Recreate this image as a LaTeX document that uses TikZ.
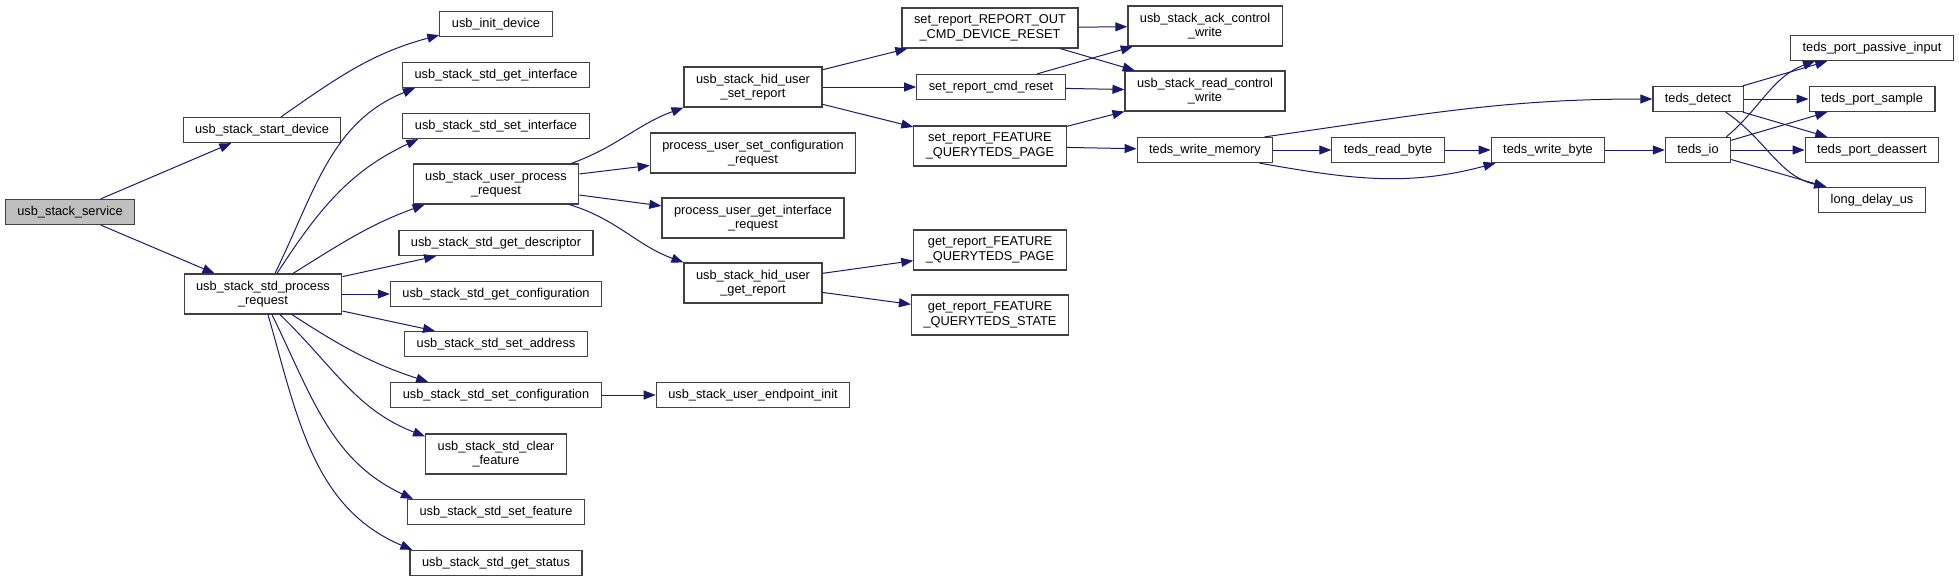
\documentclass[tikz,border=0pt]{standalone}
\usepackage{fontspec}
\setmainfont{Liberation Sans}
\usetikzlibrary{arrows.meta}
\definecolor{edgeblue}{RGB}{25,25,112}
\definecolor{boxline}{RGB}{64,64,64}
\definecolor{rootfill}{RGB}{191,191,191}
\begin{document}
\begin{tikzpicture}[x=1pt, y=1pt, >={Triangle[length=12pt,width=9pt]},
  fn/.style={draw=boxline, line width=1.2pt, fill=white, inner xsep=12pt, inner ysep=2pt,
    minimum height=25pt, font=\fontsize{12.8}{14.5}\selectfont},
  fn2/.style={fn, align=center, minimum height=40pt},
  root/.style={fn, fill=rootfill},
  call/.style={->, draw=edgeblue, line width=1pt}]
\useasboundingbox (0,0) rectangle (1959,-582);
\node[root] (service) at (70,-212) {usb\_stack\_service};
\node[fn] (startdev) at (262,-130) {usb\_stack\_start\_device};
\node[fn2] (stdproc) at (263,-294) {usb\_stack\_std\_process\\\_request};
\node[fn] (initdev) at (496,-24) {usb\_init\_device};
\node[fn] (getif) at (496,-75) {usb\_stack\_std\_get\_interface};
\node[fn] (setif) at (496,-126) {usb\_stack\_std\_set\_interface};
\node[fn2] (userproc) at (496,-184) {usb\_stack\_user\_process\\\_request};
\node[fn] (getdesc) at (496,-243) {usb\_stack\_std\_get\_descriptor};
\node[fn] (getconf) at (496,-294) {usb\_stack\_std\_get\_configuration};
\node[fn] (setaddr) at (496,-344) {usb\_stack\_std\_set\_address};
\node[fn] (setconf) at (496,-395) {usb\_stack\_std\_set\_configuration};
\node[fn2] (clearfeat) at (496,-454) {usb\_stack\_std\_clear\\\_feature};
\node[fn] (setfeat) at (496,-512) {usb\_stack\_std\_set\_feature};
\node[fn] (getstatus) at (496,-563) {usb\_stack\_std\_get\_status};
\node[fn2] (hidset) at (753,-87) {usb\_stack\_hid\_user\\\_set\_report};
\node[fn2] (procsetconf) at (753,-153) {process\_user\_set\_configuration\\\_request};
\node[fn2] (procgetif) at (753,-218) {process\_user\_get\_interface\\\_request};
\node[fn2] (hidget) at (753,-283) {usb\_stack\_hid\_user\\\_get\_report};
\node[fn] (epinit) at (753,-395) {usb\_stack\_user\_endpoint\_init};
\node[fn2] (reportout) at (990,-28) {set\_report\_REPORT\_OUT\\\_CMD\_DEVICE\_RESET};
\node[fn] (cmdreset) at (991,-87) {set\_report\_cmd\_reset};
\node[fn2] (featpage) at (990,-146) {set\_report\_FEATURE\\\_QUERYTEDS\_PAGE};
\node[fn2] (getpage) at (990,-250) {get\_report\_FEATURE\\\_QUERYTEDS\_PAGE};
\node[fn2] (getstate) at (990,-315) {get\_report\_FEATURE\\\_QUERYTEDS\_STATE};
\node[fn2] (ackwrite) at (1205,-26) {usb\_stack\_ack\_control\\\_write};
\node[fn2] (readwrite) at (1205,-91) {usb\_stack\_read\_control\\\_write};
\node[fn] (tedswm) at (1205,-150) {teds\_write\_memory};
\node[fn] (readbyte) at (1388,-150) {teds\_read\_byte};
\node[fn] (writebyte) at (1548,-150) {teds\_write\_byte};
\node[fn] (detect) at (1698,-99) {teds\_detect};
\node[fn] (tedsio) at (1698,-150) {teds\_io};
\node[fn] (passive) at (1872,-48) {teds\_port\_passive\_input};
\node[fn] (sample) at (1872,-99) {teds\_port\_sample};
\node[fn] (deassert) at (1872,-150) {teds\_port\_deassert};
\node[fn] (longdelay) at (1872,-200) {long\_delay\_us};
\draw[call] (service) -- (startdev);
\draw[call] (service) -- (stdproc);
\draw[call] ([xshift=19pt]startdev.north) to[out=35,in=195] ([yshift=2pt]initdev.south west);
\draw[call] ([xshift=12pt]stdproc.north) to[out=64,in=202] ([xshift=13pt]getif.south west);
\draw[call] ([xshift=14pt]stdproc.north) to[out=57,in=205] ([xshift=16pt]setif.south west);
\draw[call] ([xshift=30pt]stdproc.north) to[out=32,in=200] ([xshift=12pt]userproc.south west);
\draw[call] (stdproc) -- (getdesc);
\draw[call] (stdproc) -- (getconf);
\draw[call] (stdproc) -- (setaddr);
\draw[call] ([xshift=29pt]stdproc.south) to[out=-33,in=162] ([xshift=38pt]setconf.north west);
\draw[call] ([xshift=17pt]stdproc.south) to[out=-44,in=159] ([yshift=-3pt]clearfeat.north west);
\draw[call] ([xshift=9pt]stdproc.south) to[out=-64,in=155] ([xshift=6pt]setfeat.north west);
\draw[call] ([xshift=5pt]stdproc.south) to[out=-74,in=157] ([xshift=3pt]getstatus.north west);
\draw[call] (setconf) -- (epinit);
\draw[call] ([xshift=-8pt]userproc.north east) to[out=20,in=200] (hidset.south west);
\draw[call] (userproc) -- (procsetconf);
\draw[call] (userproc) -- (procgetif);
\draw[call] ([xshift=-10pt]userproc.south east) to[out=-17,in=160] (hidget.north west);
\draw[call] (hidset) -- (reportout);
\draw[call] (hidset) -- (cmdreset);
\draw[call] (hidset) -- (featpage);
\draw[call] (hidget) -- (getpage);
\draw[call] (hidget) -- (getstate);
\draw[call] (reportout) -- (ackwrite);
\draw[call] (reportout) -- (readwrite);
\draw[call] (cmdreset) -- (ackwrite);
\draw[call] (cmdreset) -- (readwrite);
\draw[call] (featpage) -- (readwrite);
\draw[call] (featpage) -- (tedswm);
\draw[call] ([xshift=-9pt]tedswm.north east) to[out=8,in=180] (detect.west);
\draw[call] (tedswm) -- (readbyte);
\draw[call] ([xshift=-14pt]tedswm.south east) to[out=-10,in=195] ([xshift=5pt]writebyte.south west);
\draw[call] (readbyte) -- (writebyte);
\draw[call] (writebyte) -- (tedsio);
\draw[call] (detect) -- (passive);
\draw[call] (detect) -- (sample);
\draw[call] (detect) -- (deassert);
\draw[call] ([xshift=-18pt]detect.south east) to[out=-34,in=167] ([xshift=8pt]longdelay.north west);
\draw[call] ([xshift=-5pt]tedsio.north east) to[out=40,in=200] ([xshift=25pt]passive.south west);
\draw[call] (tedsio) -- (sample);
\draw[call] (tedsio) -- (deassert);
\draw[call] (tedsio) -- (longdelay);
\end{tikzpicture}
\end{document}
